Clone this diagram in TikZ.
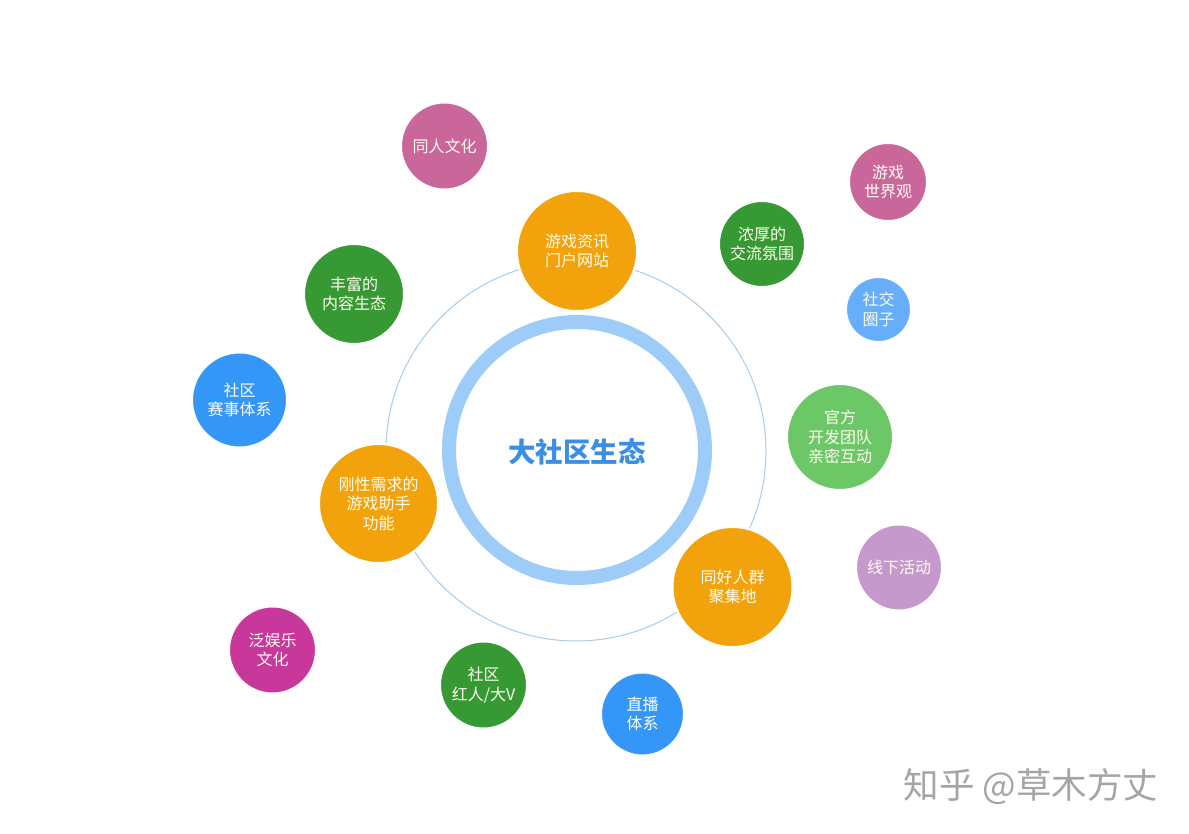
\documentclass[tikz,border=0pt]{standalone}
\usepackage{fontspec}
\setmainfont{Noto Sans CJK SC}
\definecolor{corange}{RGB}{242,163,12}
\definecolor{cgreen}{RGB}{55,153,52}
\definecolor{clgreen}{RGB}{108,199,102}
\definecolor{cpink}{RGB}{202,103,154}
\definecolor{cmagenta}{RGB}{200,55,154}
\definecolor{clav}{RGB}{198,153,204}
\definecolor{cblue}{RGB}{52,151,247}
\definecolor{clblue}{RGB}{102,174,250}
\definecolor{cring}{RGB}{158,204,248}
\definecolor{cthin}{RGB}{168,205,235}
\definecolor{ctext}{RGB}{58,142,228}
\definecolor{cwm}{RGB}{165,165,165}
\definecolor{ctxt}{RGB}{255,252,240}
\begin{document}
\begin{tikzpicture}[x=1pt,y=-1pt,
  bub/.style={circle, draw=white, line width=2pt, inner sep=0pt, text=ctxt, align=center, font=\fontsize{16}{19.5}\selectfont},
  ringthin/.style={draw=cthin, line width=1pt},
  ringthick/.style={draw=cring, line width=14pt},
]
\fill[white] (0,0) rectangle (1189,834);
\useasboundingbox (0,0) rectangle (1189,834);
\draw[ringthin] (576,451) circle (190pt);
\draw[ringthick] (577,450) circle (128pt);
\node[font=\bfseries\fontsize{27.5}{30}\selectfont, text=ctext] (hub) at (577,452) {大社区生态};

\node[bub, fill=corange, minimum size=120pt] (n1) at (577,251) {游戏资讯\\门户网站};
\node[bub, fill=cpink, minimum size=87pt] (n2) at (444.5,146) {同人文化};
\node[bub, fill=cgreen, minimum size=100pt] (n3) at (354,294) {丰富的\\内容生态};
\node[bub, fill=cgreen, minimum size=86pt] (n4) at (762,244) {浓厚的\\交流氛围};
\node[bub, fill=cpink, minimum size=78pt] (n5) at (888,182) {游戏\\世界观};
\node[bub, fill=clblue, minimum size=65pt] (n6) at (878.5,309.5) {社交\\圈子};
\node[bub, fill=clgreen, minimum size=106pt] (n7) at (840,437) {官方\\开发团队\\亲密互动};
\node[bub, fill=cblue, minimum size=95pt] (n8) at (239.5,400) {社区\\赛事体系};
\node[bub, fill=corange, minimum size=119pt] (n9) at (378.5,503.5) {刚性需求的\\游戏助手\\功能};
\node[bub, fill=cmagenta, minimum size=87pt] (n10) at (272.5,650) {泛娱乐\\文化};
\node[bub, fill=corange, minimum size=120pt] (n11) at (732.5,587) {同好人群\\聚集地};
\node[bub, fill=clav, minimum size=86pt] (n12) at (899,567.5) {线下活动};
\node[bub, fill=cgreen, minimum size=87pt] (n13) at (483.5,685) {社区\\红人/大V};
\node[bub, fill=cblue, minimum size=83pt] (n14) at (642.5,714) {直播\\体系};

\node[text=cwm, font=\fontsize{35.5}{38}\selectfont] (wm) at (1031,787) {知乎 @草木方丈};
\end{tikzpicture}
\end{document}
